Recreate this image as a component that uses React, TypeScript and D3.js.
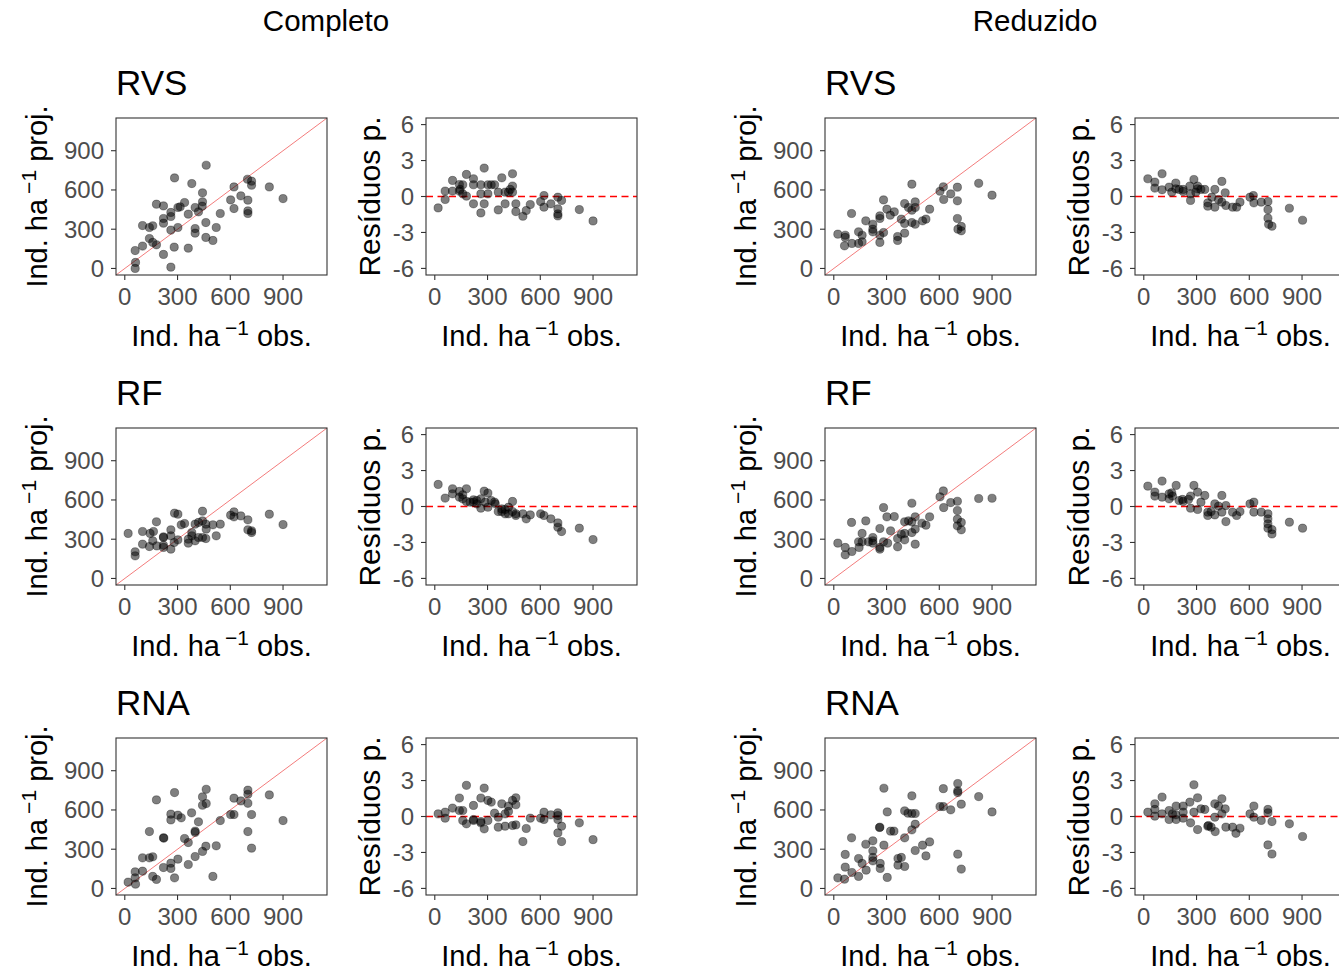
import React from "react";
import * as d3 from "d3";

type P = [number, number];

const columnTitles = ["Completo", "Reduzido"];
const modelTitles = ["RVS", "RF", "RNA"];
const obsTicks = [0, 300, 600, 900];
const predTicks = [0, 300, 600, 900];
const resTicks = [-6, -3, 0, 3, 6];

// Completo – RVS
const compRVSPred: P[] = [[463,789],[283,692],[381,649],[698,682],[721,667],[721,636],[621,623],[822,623],[900,534],[602,524],[660,555],[700,522],[621,458],[700,440],[700,420],[442,578],[442,509],[440,476],[180,491],[220,478],[340,504],[315,471],[302,466],[400,466],[361,415],[419,433],[262,428],[262,397],[220,382],[220,346],[543,420],[461,351],[520,313],[101,328],[140,313],[159,326],[262,293],[302,313],[400,305],[400,270],[140,229],[159,199],[180,181],[101,171],[461,237],[501,214],[281,163],[361,155],[220,107],[59,137],[61,46],[59,0],[262,10]];
const compRVSRes: P[] = [[19,-0.95],[59,0.45],[59,-0.25],[101,1.34],[101,0.45],[140,1.0],[140,0.45],[159,0.98],[159,0.22],[180,1.84],[180,0.03],[220,1.48],[220,0.98],[220,-0.61],[262,0.98],[262,0.22],[262,-1.37],[281,2.37],[281,-0.61],[302,0.98],[302,0.22],[321,0.98],[340,0.98],[361,0.36],[361,-1.12],[381,1.56],[400,0.36],[400,-0.61],[419,0.36],[442,1.9],[442,0.87],[442,0.36],[461,-0.61],[461,-1.26],[501,-1.65],[520,-1.17],[543,-0.67],[602,-0.42],[621,0.08],[621,-0.89],[660,-0.61],[700,-0.06],[700,-1.03],[700,-1.45],[700,-1.62],[721,-0.33],[822,-1.09],[900,-2.04],[144,0.59],[429,0.59]];

// Completo – RF
const compRFPred: P[] = [[19,344],[101,359],[144,344],[163,359],[180,433],[220,318],[220,313],[262,372],[262,326],[283,499],[302,491],[321,410],[340,420],[400,415],[419,428],[442,514],[442,440],[463,377],[461,415],[501,410],[543,415],[520,326],[101,262],[140,244],[159,288],[182,249],[220,237],[262,224],[281,275],[302,295],[361,300],[361,270],[381,326],[400,288],[419,313],[442,313],[461,305],[59,204],[59,173],[602,484],[621,509],[621,471],[660,478],[700,448],[700,372],[721,351],[721,364],[822,491],[900,412],[220,254],[381,351]];
const compRFRes: P[] = [[19,1.84],[59,0.7],[101,1.48],[101,1.06],[140,1.26],[140,0.78],[159,0.64],[180,1.48],[180,0.42],[220,0.56],[220,0.36],[262,0.64],[262,-0.14],[281,1.28],[302,1.12],[302,-0.06],[321,0.5],[340,0.36],[361,-0.42],[381,-0.42],[400,-0.25],[400,-0.61],[419,-0.06],[442,0.42],[442,-0.42],[461,-0.75],[461,-0.61],[501,-0.61],[520,-1.03],[543,-0.7],[602,-0.61],[621,-0.75],[660,-1.03],[700,-1.37],[700,-1.73],[721,-2.09],[822,-1.81],[900,-2.76],[201,0.36],[239,0.22],[287,0.36],[344,0.22],[419,-0.61],[381,-0.2],[159,0.98],[239,0.5]];

// Completo – RNA
const compRNAPred: P[] = [[463,758],[442,700],[283,733],[180,677],[442,636],[463,649],[700,751],[700,720],[700,651],[621,690],[660,669],[822,715],[900,519],[721,565],[602,565],[621,565],[543,519],[380,578],[262,568],[262,524],[302,560],[321,540],[419,509],[400,438],[400,428],[140,435],[220,387],[222,385],[340,382],[361,351],[700,435],[721,308],[461,323],[520,326],[442,283],[400,244],[101,234],[140,234],[159,242],[302,224],[262,193],[361,183],[220,160],[262,153],[59,127],[101,132],[59,81],[19,48],[61,33],[159,92],[180,69],[283,81],[501,92]];
const compRNARes: P[] = [[19,0.22],[59,0.36],[59,-0.14],[101,0.7],[140,1.54],[140,0.5],[159,0.5],[159,-0.33],[180,2.6],[180,-0.61],[220,0.92],[220,-0.25],[262,1.54],[262,-0.42],[262,-0.53],[281,2.37],[281,-1.03],[302,1.34],[302,-0.33],[321,1.2],[340,0.28],[361,-0.06],[361,-0.89],[381,1.06],[400,0.22],[400,-0.81],[419,0.42],[442,1.34],[442,-0.75],[461,1.56],[461,0.98],[461,-0.7],[501,-2.09],[520,-1.0],[543,-0.14],[602,-0.14],[621,0.36],[621,-0.25],[660,0.14],[700,0.31],[700,0.08],[700,-0.25],[700,-1.37],[721,-0.81],[721,-2.09],[822,-0.53],[900,-1.93],[220,-0.33],[419,0.87]];

// Reduzido – RVS
const redRVSPred: P[] = [[444,644],[824,651],[900,560],[623,624],[604,590],[665,570],[703,621],[625,527],[703,517],[283,524],[403,496],[463,509],[425,466],[444,445],[463,466],[545,453],[302,453],[344,433],[321,407],[262,402],[262,382],[384,377],[403,344],[444,351],[463,338],[505,364],[524,377],[101,420],[182,364],[222,338],[222,300],[222,280],[283,275],[262,254],[262,199],[363,244],[363,214],[403,270],[141,280],[161,254],[161,204],[23,262],[65,254],[65,237],[61,173],[103,191],[141,191],[703,382],[706,300],[725,288],[725,321]];
const redRVSRes: P[] = [[23,1.48],[63,1.2],[63,0.7],[104,1.9],[104,0.56],[144,0.78],[159,0.36],[182,1.12],[182,0.64],[224,0.59],[224,0.42],[262,0.87],[266,-0.33],[266,0.22],[285,1.42],[306,0.87],[306,0.64],[325,0.59],[347,0.59],[364,-0.81],[364,-0.53],[404,-0.89],[404,0.59],[425,-0.25],[444,1.26],[444,-0.47],[463,0.31],[467,-0.75],[505,-0.89],[528,-0.89],[547,-0.47],[604,-0.06],[623,0.08],[626,-0.53],[668,-0.47],[706,-0.42],[706,-1.09],[706,-1.81],[710,-2.32],[729,-2.48],[828,-0.98],[903,-1.98],[387,-0.06],[296,0.36],[201,0.59]];

// Reduzido – RF
const redRFPred: P[] = [[623,669],[604,624],[665,580],[703,590],[824,611],[900,613],[625,542],[703,519],[703,453],[725,428],[703,402],[725,372],[444,575],[283,542],[302,471],[344,473],[463,471],[545,471],[403,433],[425,440],[444,433],[501,422],[524,407],[463,377],[444,351],[403,344],[384,338],[363,305],[403,295],[463,262],[363,242],[323,364],[306,270],[283,280],[262,382],[262,237],[262,224],[222,313],[222,288],[222,270],[182,440],[101,428],[161,344],[141,280],[161,280],[144,237],[23,270],[65,237],[65,181],[103,206],[197,280]];
const redRFRes: P[] = [[23,1.7],[63,1.2],[63,0.87],[104,2.12],[104,0.78],[144,0.64],[144,1.06],[159,1.14],[163,0.87],[184,1.76],[220,0.59],[224,0.42],[266,0.87],[266,-0.14],[285,1.76],[306,1.2],[306,-0.25],[325,0.36],[347,0.92],[364,-0.47],[364,-0.75],[383,-0.42],[404,0.22],[404,-0.7],[425,0.03],[444,0.92],[444,-0.47],[467,0.08],[467,-1.26],[505,-0.47],[528,-0.75],[547,-0.42],[604,0.22],[626,0.36],[626,-0.47],[668,-0.47],[706,-0.61],[706,-1.03],[706,-1.45],[706,-1.81],[729,-1.93],[729,-2.29],[828,-1.31],[903,-1.81],[254,0.59],[201,0.5]];

// Reduzido – RNA
const redRNAPred: P[] = [[285,766],[705,802],[705,746],[705,733],[623,763],[824,702],[725,644],[604,626],[623,626],[665,601],[900,585],[444,708],[403,593],[422,575],[444,573],[463,573],[304,585],[463,491],[444,448],[260,466],[262,468],[323,438],[342,438],[403,387],[545,356],[505,331],[463,290],[524,249],[101,387],[182,338],[222,364],[222,288],[285,331],[141,229],[161,191],[222,237],[222,211],[264,191],[264,153],[304,84],[365,229],[384,237],[365,178],[403,168],[65,260],[65,163],[23,81],[61,71],[103,122],[141,92],[184,140],[705,262],[725,148]];
const redRNARes: P[] = [[23,0.36],[63,1.06],[63,0.59],[63,0.03],[104,1.62],[104,0.22],[144,0.5],[144,-0.25],[163,0.22],[184,0.87],[184,-0.25],[224,0.87],[224,0.36],[224,-0.14],[262,1.2],[266,-0.53],[285,2.65],[285,0.36],[306,1.56],[306,-1.09],[325,0.64],[347,0.59],[364,-0.81],[383,-0.89],[404,1.06],[404,-0.06],[406,-1.26],[425,0.87],[444,1.48],[444,0.22],[463,0.64],[467,-0.89],[505,-0.89],[524,-1.4],[547,-0.98],[604,0.22],[626,0.87],[626,-0.06],[668,-0.33],[706,0.59],[706,0.31],[729,-0.42],[706,-2.37],[729,-3.13],[828,-0.61],[903,-1.67],[368,-0.75],[182,0.14]];

const predSets: P[][][] = [
  [compRVSPred, compRFPred, compRNAPred],
  [redRVSPred, redRFPred, redRNAPred],
];
const resSets: P[][][] = [
  [compRVSRes, compRFRes, compRNARes],
  [redRVSRes, redRFRes, redRNARes],
];

const W = 1339;
const H = 971;
const PW = 211;
const PH = 157;
const FONT = "'Liberation Sans', Arial, Helvetica, sans-serif";
const TICK_COL = "#4D4D4D";
const AX_COL = "#333333";
const AXT = 29;

const xScaleBase = d3.scaleLinear().domain([-50, 1150]).range([0, PW]);
const yPredBase = d3.scaleLinear().domain([-50, 1150]).range([PH, 0]);
const yResBase = d3.scaleLinear().domain([-6.55, 6.55]).range([PH, 0]);

function XTitle({ cx, y }: { cx: number; y: number }) {
  return (
    <text x={cx} y={y} textAnchor="middle" fontSize={AXT} fill="#000" fontFamily={FONT}>
      Ind. ha
      <tspan dx={5} dy={-11} fontSize={21}>−1</tspan>
      <tspan dy={11}> obs.</tspan>
    </text>
  );
}

function Panel({
  left,
  top,
  pts,
  kind,
}: {
  left: number;
  top: number;
  pts: P[];
  kind: "pred" | "res";
}) {
  const xs = xScaleBase;
  const ys = kind === "pred" ? yPredBase : yResBase;
  const yt = kind === "pred" ? predTicks : resTicks;
  return (
    <g transform={`translate(${left},${top})`}>
      <rect x={0} y={0} width={PW} height={PH} fill="#fff" />
      {kind === "pred" ? (
        <line
          x1={xs(-50)}
          y1={ys(-50)}
          x2={xs(1150)}
          y2={ys(1150)}
          stroke="#F26D6D"
          strokeWidth={0.9}
        />
      ) : (
        <line
          x1={0}
          x2={PW}
          y1={ys(0)}
          y2={ys(0)}
          stroke="#FF0000"
          strokeWidth={1.4}
          strokeDasharray="7,4.5"
        />
      )}
      {pts.map((p, i) => (
        <circle
          key={i}
          cx={xs(p[0])}
          cy={ys(p[1])}
          r={4.1}
          fill="#000"
          fillOpacity={0.5}
          stroke="#000"
          strokeOpacity={0.35}
          strokeWidth={1}
        />
      ))}
      <rect x={0} y={0} width={PW} height={PH} fill="none" stroke={AX_COL} strokeWidth={1.1} />
      {obsTicks.map((t) => (
        <g key={"x" + t}>
          <line x1={xs(t)} x2={xs(t)} y1={PH} y2={PH + 5} stroke={AX_COL} strokeWidth={1.1} />
          <text
            x={xs(t)}
            y={PH + 30}
            textAnchor="middle"
            fontSize={24}
            fill={TICK_COL}
            fontFamily={FONT}
          >
            {t}
          </text>
        </g>
      ))}
      {yt.map((t) => (
        <g key={"y" + t}>
          <line x1={-5} x2={0} y1={ys(t)} y2={ys(t)} stroke={AX_COL} strokeWidth={1.1} />
          <text
            x={-12}
            y={ys(t) + 8.5}
            textAnchor="end"
            fontSize={24}
            fill={TICK_COL}
            fontFamily={FONT}
          >
            {t}
          </text>
        </g>
      ))}
      <XTitle cx={PW / 2} y={PH + 71} />
      {kind === "pred" ? (
        <text
          transform={`translate(-69,${PH / 2}) rotate(-90)`}
          textAnchor="middle"
          fontSize={AXT}
          fill="#000"
          fontFamily={FONT}
        >
          Ind. ha
          <tspan dx={5} dy={-11} fontSize={21}>−1</tspan>
          <tspan dy={11}> proj.</tspan>
        </text>
      ) : (
        <text
          transform={`translate(-46,${PH / 2}) rotate(-90)`}
          textAnchor="middle"
          fontSize={AXT + 1}
          fill="#000"
          fontFamily={FONT}
        >
          Resíduos p.
        </text>
      )}
    </g>
  );
}

export default function App() {
  const colOffsets = [0, 709];
  const rowOffsets = [0, 310, 620];
  return (
    <svg
      width={W}
      height={H}
      style={{ position: "absolute", left: 0, top: 0, background: "#fff", overflow: "hidden" }}
    >
      <rect x={0} y={0} width={W} height={H} fill="#fff" />
      {columnTitles.map((t, c) => (
        <text
          key={t}
          x={326 + colOffsets[c]}
          y={31}
          textAnchor="middle"
          fontSize={29.5}
          fill="#000"
          fontFamily={FONT}
        >
          {t}
        </text>
      ))}
      {colOffsets.map((ox, c) =>
        rowOffsets.map((oy, r) => (
          <g key={`${c}-${r}`}>
            <text x={116 + ox} y={95 + oy} fontSize={35} fill="#000" fontFamily={FONT}>
              {modelTitles[r]}
            </text>
            <Panel left={116 + ox} top={118 + oy} pts={predSets[c][r]} kind="pred" />
            <Panel left={426 + ox} top={118 + oy} pts={resSets[c][r]} kind="res" />
          </g>
        ))
      )}
    </svg>
  );
}
